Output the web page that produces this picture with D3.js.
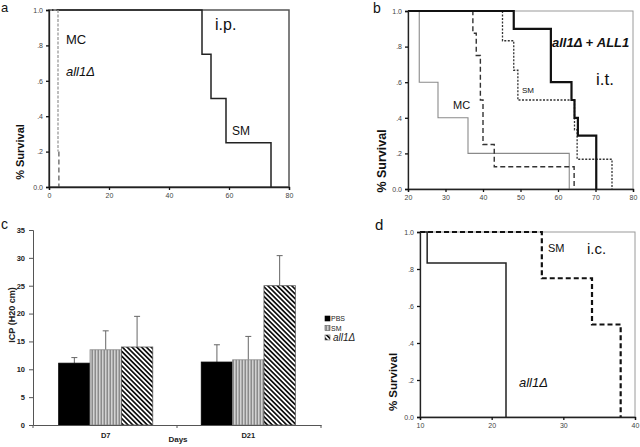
<!DOCTYPE html>
<html><head><meta charset="utf-8">
<script src="https://cdn.jsdelivr.net/npm/d3@7"></script>
<style>
html,body{margin:0;padding:0;background:#fff;}
svg{display:block;font-family:"Liberation Sans",Arial,sans-serif;}
</style></head>
<body>
<svg id="fig" width="640" height="447"></svg>
<script>
// ---------- DATA ----------
const survTicks = [0, 0.2, 0.4, 0.6, 0.8, 1.0];
// panel a (i.p.)
const aXTicks = [0, 20, 40, 60, 80];
const aSMTimes = [0, 51, 54, 59, 74];
const aSMSurv  = [1, 0.75, 0.5, 0.25, 0];
const aMCTimes = [0, 3];
const aMCSurv  = [1, 0.2];
const aDelTimes = [3.3, 3.3];
const aDelSurv  = [0.2, 0];
// panel b (i.t.)
const bXTicks = [20, 30, 40, 50, 60, 70, 80];
const bMCTimes = [20, 23, 28, 36, 63];
const bMCSurv  = [1, 0.6, 0.4, 0.2, 0];
const bDelTimes = [20, 37.3, 38.2, 39.3, 40, 43, 64.3];
const bDelSurv  = [1, 0.875, 0.75, 0.5, 0.25, 0.125, 0];
const bSMTimes = [20, 45.2, 48.2, 49.3, 64.4, 65.1, 74.4];
const bSMSurv  = [1, 0.833, 0.667, 0.5, 0.333, 0.167, 0];
const bResTimes = [20, 48.2, 58.1, 63.6, 64.4, 65.3, 70.2];
const bResSurv  = [1, 0.9, 0.6, 0.5, 0.4, 0.3, 0];
// panel c (ICP bars)
const cCategories = ["D7", "D21"];
const cSeries = ["PBS", "SM", "all1Δ"];
const cPBS = [11.1, 11.3];
const cSM = [13.5, 11.7];
const cDel = [14.0, 25.0];
const cPBSErr = [1.0, 3.1];
const cSMErr = [3.4, 4.2];
const cDelErr = [5.5, 5.4];
const cYTicks = [0, 5, 10, 15, 20, 25, 30, 35];
// panel d (i.c.)
const dXTicks = [10, 20, 30, 40];
const dDelTimes = [10, 11, 22];
const dDelSurv  = [1, 0.833, 0];
const dSMTimes = [10, 27, 34, 38];
const dSMSurv  = [1, 0.75, 0.5, 0];

// ---------- DRAW ----------
const svg = d3.select("#fig");
const FONT = "'Liberation Sans',Arial,sans-serif";
const survFmt = v => (v === 0 ? "0.0" : v === 1 ? "1.0" : d3.format(".1f")(v).replace(/^0/, ""));

const defs = svg.append("defs");
const pv = defs.append("pattern").attr("id", "pVert").attr("patternUnits", "userSpaceOnUse")
  .attr("width", 3).attr("height", 3);
pv.append("rect").attr("width", 3).attr("height", 3).attr("fill", "#d2d2d2");
pv.append("rect").attr("x", 1.6).attr("width", 1.2).attr("height", 3).attr("fill", "#7a7a7a");
const pd = defs.append("pattern").attr("id", "pDiag").attr("patternUnits", "userSpaceOnUse")
  .attr("width", 3.4).attr("height", 3.4).attr("patternTransform", "rotate(-45)");
pd.append("rect").attr("width", 3.4).attr("height", 3.4).attr("fill", "#fff");
pd.append("rect").attr("width", 1.7).attr("height", 3.4).attr("fill", "#111");

function km(times, surv) { return times.map((t, i) => [t, surv[i]]); }

function kmPanel(cfg) {
  const g = svg.append("g");
  const x = d3.scaleLinear().domain(cfg.xDomain).range([cfg.left, cfg.right]);
  const y = d3.scaleLinear().domain([0, 1]).range([cfg.bottom, cfg.top]);
  g.append("rect").attr("x", cfg.left).attr("y", cfg.top)
    .attr("width", cfg.right - cfg.left).attr("height", cfg.bottom - cfg.top)
    .attr("fill", "none").attr("stroke", cfg.frame).attr("stroke-width", cfg.frameW);
  const line = d3.line().x(d => x(d[0])).y(d => y(d[1])).curve(d3.curveStepAfter);
  cfg.curves.forEach(c => {
    g.append("path").attr("d", line(c.pts)).attr("fill", "none")
      .attr("stroke", c.color).attr("stroke-width", c.w)
      .attr("stroke-dasharray", c.dash || null);
  });
  const ya = g.append("g").attr("transform", `translate(${cfg.left},0)`)
    .call(d3.axisLeft(y).tickValues(survTicks).tickSize(3).tickPadding(3).tickFormat(survFmt));
  const xa = g.append("g").attr("transform", `translate(0,${cfg.bottom})`)
    .call(d3.axisBottom(x).tickValues(cfg.xTicks).tickSize(3).tickPadding(3).tickFormat(d3.format("d")));
  [ya, xa].forEach(a => {
    a.select(".domain").attr("stroke", "#222").attr("stroke-width", 1.3);
    a.selectAll(".tick line").attr("stroke", "#111").attr("stroke-width", 1.3);
    a.selectAll(".tick text").attr("font-family", FONT).attr("font-size", 7).attr("fill", "#444");
  });
  g.append("text").attr("transform", `translate(${cfg.ylabX},${cfg.ylabY}) rotate(-90)`)
    .attr("text-anchor", "middle").attr("font-family", FONT).attr("font-weight", "bold")
    .attr("font-size", cfg.ylabSize).attr("fill", "#111").text("% Survival");
  cfg.labels.forEach(l => {
    g.append("text").attr("x", l.x).attr("y", l.y).attr("font-family", FONT)
      .attr("font-size", l.size).attr("font-style", l.italic ? "italic" : null)
      .attr("font-weight", l.bold ? "bold" : null).attr("fill", "#111").text(l.t);
  });
  return g;
}

// Panel a
kmPanel({
  xDomain: [0, 80], xTicks: aXTicks, left: 49, right: 289, top: 10, bottom: 187,
  frame: "#555", frameW: 1.5, ylabX: 24, ylabY: 152, ylabSize: 11,
  curves: [
    { pts: km(aSMTimes, aSMSurv), color: "#222", w: 1.5 },
    { pts: km(aDelTimes, aDelSurv), color: "#555", w: 1.2, dash: "5,3" },
    { pts: km(aMCTimes, aMCSurv), color: "#9a9a9a", w: 1.3, dash: "3,1.5" }
  ],
  labels: [
    { t: "a", x: 1, y: 12, size: 13 },
    { t: "MC", x: 66, y: 44, size: 13 },
    { t: "all1Δ", x: 66, y: 76, size: 13, italic: true },
    { t: "i.p.", x: 215, y: 30, size: 16 },
    { t: "SM", x: 232, y: 135, size: 12 }
  ]
});

// Panel b
kmPanel({
  xDomain: [20, 80], xTicks: bXTicks, left: 408, right: 633, top: 11, bottom: 189,
  frame: "#9a9a9a", frameW: 1, ylabX: 386, ylabY: 161, ylabSize: 12.5,
  curves: [
    { pts: km(bMCTimes, bMCSurv), color: "#8a8a8a", w: 1.1 },
    { pts: km(bDelTimes, bDelSurv), color: "#333", w: 1.4, dash: "5,3" },
    { pts: km(bSMTimes, bSMSurv), color: "#333", w: 1.3, dash: "2,1.5" },
    { pts: km(bResTimes, bResSurv), color: "#111", w: 2.2 }
  ],
  labels: [
    { t: "b", x: 373, y: 13, size: 14 },
    { t: "all1Δ + ALL1", x: 552, y: 47, size: 13, italic: true, bold: true },
    { t: "i.t.", x: 596, y: 85, size: 17 },
    { t: "SM", x: 522, y: 93, size: 8 },
    { t: "MC", x: 453, y: 109, size: 11 }
  ]
});

// Panel d
kmPanel({
  xDomain: [10, 40], xTicks: dXTicks, left: 420, right: 635, top: 232, bottom: 417,
  frame: "#9a9a9a", frameW: 1, ylabX: 397, ylabY: 382, ylabSize: 11.5,
  curves: [
    { pts: km(dDelTimes, dDelSurv), color: "#222", w: 1.5 },
    { pts: km(dSMTimes, dSMSurv), color: "#111", w: 2.2, dash: "5,3" }
  ],
  labels: [
    { t: "d", x: 375, y: 230, size: 15 },
    { t: "SM", x: 548, y: 252, size: 11 },
    { t: "i.c.", x: 587, y: 254, size: 15 },
    { t: "all1Δ", x: 519, y: 387, size: 13, italic: true }
  ]
});

// Panel c
(function () {
  const g = svg.append("g");
  const left = 33, right = 321, top = 230, bottom = 425;
  const y = d3.scaleLinear().domain([0, 35]).range([bottom, top]);
  const x0 = d3.scaleBand().domain(cCategories).range([left, right]).paddingInner(0.34).paddingOuter(0.18);
  const x1 = d3.scaleBand().domain(cSeries).range([0, x0.bandwidth()]);
  const means = [cPBS, cSM, cDel];
  const errs = [cPBSErr, cSMErr, cDelErr];
  const fills = ["#000", "url(#pVert)", "url(#pDiag)"];
  const strokes = ["#000", "#888", "#555"];
  cSeries.forEach((s, si) => {
    cCategories.forEach((c, ci) => {
      const v = means[si][ci], e = errs[si][ci];
      const bx = x0(c) + x1(s), bw = x1.bandwidth();
      const cx = bx + bw / 2;
      g.append("line").attr("x1", cx).attr("x2", cx).attr("y1", y(v)).attr("y2", y(v + e))
        .attr("stroke", "#666").attr("stroke-width", 1);
      g.append("line").attr("x1", cx - 3).attr("x2", cx + 3).attr("y1", y(v + e)).attr("y2", y(v + e))
        .attr("stroke", "#666").attr("stroke-width", 1);
      g.append("rect").attr("x", bx).attr("y", y(v)).attr("width", bw).attr("height", y(0) - y(v))
        .attr("fill", fills[si]).attr("stroke", strokes[si]).attr("stroke-width", 0.8);
    });
  });
  const ya = g.append("g").attr("transform", `translate(${left},0)`)
    .call(d3.axisLeft(y).tickValues(cYTicks).tickSize(4).tickPadding(4));
  ya.select(".domain").attr("stroke", "#555");
  ya.selectAll(".tick line").attr("stroke", "#555");
  ya.selectAll(".tick text").attr("font-family", FONT).attr("font-size", 7.5)
    .attr("font-weight", "bold").attr("fill", "#222");
  const xa = g.append("g").attr("transform", `translate(0,${bottom})`)
    .call(d3.axisBottom(x0).tickSize(0).tickPadding(8));
  xa.select(".domain").attr("stroke", "#555");
  xa.selectAll(".tick text").attr("font-family", FONT).attr("font-size", 7.5)
    .attr("font-weight", "bold").attr("fill", "#222");
  const seps = [left, (x0(cCategories[0]) + x0.bandwidth() + x0(cCategories[1])) / 2, right];
  seps.forEach(sx => g.append("line").attr("x1", sx).attr("x2", sx).attr("y1", bottom).attr("y2", bottom + 3)
    .attr("stroke", "#555"));
  g.append("text").attr("x", 178).attr("y", 442).attr("text-anchor", "middle")
    .attr("font-family", FONT).attr("font-size", 8).attr("font-weight", "bold").attr("fill", "#222").text("Days");
  g.append("text").attr("transform", `translate(15,315) rotate(-90)`).attr("text-anchor", "middle")
    .attr("font-family", FONT).attr("font-size", 9).attr("font-weight", "bold").attr("fill", "#222").text("ICP (H20 cm)");
  g.append("text").attr("x", 1).attr("y", 229).attr("font-family", FONT).attr("font-size", 14).attr("fill", "#111").text("c");
  const legY = [316, 325.5, 335];
  cSeries.forEach((s, i) => {
    g.append("rect").attr("x", 325).attr("y", legY[i]).attr("width", 5).attr("height", 5)
      .attr("fill", fills[i]).attr("stroke", i === 0 ? "#000" : "#555").attr("stroke-width", 0.6);
    g.append("text").attr("x", i === 2 ? 333 : 331).attr("y", legY[i] + (i === 2 ? 6 : 5))
      .attr("font-family", FONT).attr("font-size", i === 2 ? 10 : 7)
      .attr("font-style", i === 2 ? "italic" : null).attr("fill", "#222").text(s);
  });
})();
</script>
</body></html>
